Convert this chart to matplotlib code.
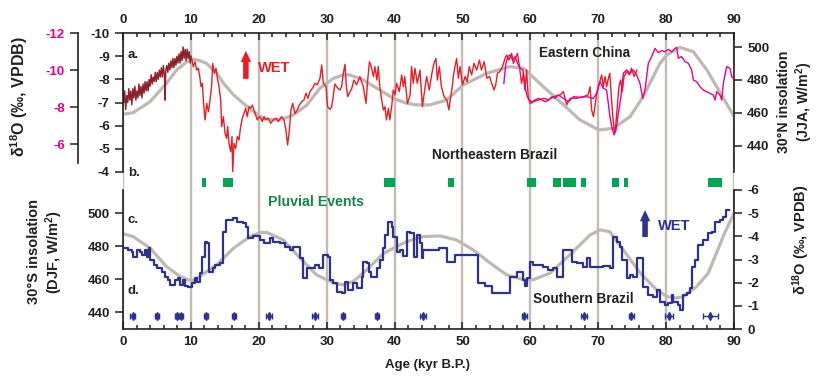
import matplotlib
matplotlib.use("Agg")
import matplotlib.pyplot as plt
from matplotlib.ticker import MultipleLocator

plt.rcParams['font.family'] = ['Liberation Sans', 'DejaVu Sans']
plt.rcParams['font.weight'] = 'bold'
plt.rcParams['axes.unicode_minus'] = False
plt.rcParams['mathtext.default'] = 'regular'

# ---------------- data ----------------
# a. Eastern China speleothem d18O (early part, dark red), permil VPDB
darkred_age = [0.0, 0.1, 0.25, 0.4, 0.55, 0.7, 0.85, 1.0, 1.15, 1.3, 1.45, 1.6, 1.75, 1.9, 2.05,
               2.2, 2.35, 2.5, 2.65, 2.8, 2.95, 3.1, 3.25, 3.4, 3.55, 3.7, 3.85, 4.0, 4.15, 4.3,
               4.45, 4.6, 4.75, 4.9, 5.05, 5.2, 5.35, 5.5, 5.65, 5.8, 5.95, 6.1, 6.2, 6.3, 6.45,
               6.6, 6.75, 6.9, 7.05, 7.2, 7.35, 7.5, 7.65, 7.8, 7.95, 8.1, 8.25, 8.4, 8.55, 8.7,
               8.85, 9.0, 9.15, 9.3, 9.45, 9.6, 9.75, 9.9, 10.05]
darkred_d18o = [-8.1, -7.0, -7.5, -6.7, -7.3, -7.0, -7.6, -7.1, -7.5, -6.9, -7.6, -7.2, -7.7, -7.1, -7.5,
                -7.2, -7.8, -7.3, -7.7, -7.2, -7.8, -7.4, -7.9, -7.5, -7.9, -7.5, -8.0, -7.7, -8.2, -7.8,
                -8.1, -7.9, -8.3, -7.9, -8.3, -8.0, -8.4, -8.1, -8.5, -8.1, -8.6, -8.2, -7.1, -8.4, -8.6,
                -8.3, -8.7, -8.4, -8.8, -8.5, -8.9, -8.5, -8.9, -8.6, -9.0, -8.7, -9.1, -8.7, -9.2, -8.8,
                -9.4, -8.9, -9.3, -8.8, -9.3, -8.9, -9.2, -8.7, -9.0]

# a. Eastern China speleothem d18O (red), permil VPDB
red_age = [10.11, 10.35, 10.61, 10.85, 11.10, 11.34, 11.49, 11.69, 11.83, 12.08, 12.33, 12.57, 12.82,
           13.06, 13.21, 13.45, 13.70, 13.90, 14.14, 14.39, 14.53, 14.78, 15.03, 15.27, 15.42, 15.61,
           15.86, 16.06, 16.16, 16.35, 16.59, 16.84, 17.08, 17.33, 17.57, 17.82, 18.07, 18.31, 18.56,
           18.80, 19.05, 19.29, 19.54, 19.78, 20.03, 20.28, 20.52, 20.77, 21.01, 21.40, 21.75, 22.14,
           22.53, 22.87, 23.37, 23.71, 24.00, 24.25, 24.50, 24.74, 24.99, 25.33, 25.68, 25.97, 26.32,
           26.66, 26.96, 27.25, 27.54, 27.90, 28.28, 28.63, 29.02, 29.27, 29.51, 29.90, 30.14, 30.49,
           30.73, 30.98, 31.20, 31.47, 31.70, 31.96, 32.20, 32.45, 32.70, 32.90, 33.10, 33.33, 33.70,
           34.00, 34.40, 34.90, 35.40, 35.80, 36.00, 36.30, 36.50, 36.90, 37.10, 37.40, 37.60, 37.80,
           38.10, 38.35, 38.60, 38.80, 39.10, 39.30, 39.60, 39.80, 40.07, 40.30, 40.70, 41.05, 41.30,
           41.50, 41.90, 42.30, 42.50, 42.76, 43.00, 43.35, 43.75, 44.10, 44.50, 44.73, 45.10, 45.50,
           45.80, 46.10, 46.30, 46.60, 46.90, 47.30, 47.70, 48.00, 48.27, 48.50, 48.65, 48.90, 49.15,
           49.40, 49.65, 50.00, 50.40, 50.70, 51.00, 51.35, 51.70, 52.10, 52.50, 52.80, 53.20, 53.60,
           54.00, 54.30, 54.65, 54.90, 55.15, 55.50, 55.90, 56.27, 56.50, 56.85, 57.25, 57.50, 57.80,
           58.10, 58.40, 58.70, 59.00, 59.20, 59.45, 59.70, 60.00, 60.50, 61.20, 62.00, 62.70, 63.40,
           64.40, 64.86, 65.35, 65.84, 66.80, 67.80, 68.50, 68.80, 69.03, 69.30, 69.50, 69.75, 70.00,
           70.30, 70.50, 70.75, 71.00, 71.24, 71.50, 71.70, 72.00, 72.20, 72.40, 72.56, 72.80, 73.05,
           73.30, 73.55, 73.80, 74.20, 74.60, 74.90, 75.30, 75.70]
red_d18o = [-8.90, -8.55, -8.76, -8.40, -8.48, -8.05, -7.68, -7.83, -7.11, -6.25, -6.96, -6.60, -7.11,
            -7.76, -8.69, -8.26, -8.48, -8.05, -7.68, -7.11, -5.96, -6.39, -5.67, -5.45, -5.96, -5.24,
            -4.88, -5.53, -4.02, -5.24, -5.02, -5.53, -5.38, -5.96, -6.32, -6.53, -6.75, -6.39, -6.82,
            -6.75, -6.89, -6.68, -6.46, -6.25, -6.39, -6.32, -6.18, -6.39, -6.25, -6.32, -6.10, -6.25,
            -6.32, -6.18, -6.39, -6.25, -5.81, -5.17, -5.81, -6.68, -6.96, -6.53, -6.68, -6.89, -7.04,
            -7.11, -7.40, -7.18, -7.47, -7.61, -7.83, -7.76, -8.05, -8.62, -7.83, -7.68, -6.82, -6.70,
            -6.82, -7.30, -7.80, -7.68, -7.60, -7.54, -7.68, -8.26, -8.65, -7.68, -7.25, -7.40, -7.61,
            -7.97, -7.76, -8.12, -7.68, -6.96, -7.83, -8.76, -8.62, -8.12, -8.55, -7.97, -8.55, -7.76,
            -7.11, -6.68, -6.82, -6.25, -6.75, -6.25, -6.89, -7.54, -7.33, -7.83, -7.47, -8.19, -7.68,
            -8.12, -6.96, -7.33, -8.55, -7.83, -8.48, -7.83, -8.40, -6.82, -7.68, -8.12, -7.54, -8.26,
            -8.69, -8.90, -7.97, -8.55, -7.68, -7.25, -7.11, -6.68, -7.25, -7.68, -8.12, -8.55, -8.90,
            -8.05, -8.55, -7.76, -8.12, -7.90, -8.55, -8.19, -8.69, -8.40, -8.83, -8.40, -8.76, -8.05,
            -8.12, -7.83, -7.54, -7.76, -8.26, -8.33, -8.55, -8.90, -9.05, -8.83, -9.12, -8.69, -8.90,
            -9.12, -8.55, -7.83, -8.26, -7.54, -8.40, -7.18, -6.96, -7.04, -7.11, -7.18, -7.11, -7.25,
            -7.33, -7.47, -6.90, -7.18, -7.18, -7.25, -7.33, -7.68, -6.68, -6.39, -6.82, -7.33, -7.68,
            -7.97, -8.19, -7.68, -8.12, -7.68, -8.05, -8.26, -6.96, -6.25, -5.67, -5.96, -6.82, -7.68,
            -7.97, -7.47, -8.12, -8.33, -8.19, -8.48, -8.12, -8.40]

# a. second record (pink), permil VPDB, on the pink axis
pink_age = [56.1, 56.4, 56.7, 57.0, 57.4, 57.75, 58.1, 58.5, 58.9, 59.2, 59.55, 59.85, 60.2, 60.7,
            61.2, 61.7, 62.2, 62.7, 63.2, 63.6, 64.1, 64.86, 65.6, 66.35, 67.31, 68.30, 69.28, 69.77,
            70.26, 70.75, 71.24, 71.73, 71.98, 72.33, 72.62, 72.96, 73.31, 73.70, 74.19, 74.68, 75.17,
            75.66, 76.15, 76.55, 76.89, 77.38, 77.87, 78.36, 78.86, 79.35, 79.84, 80.33, 80.82, 81.31,
            81.55, 81.80, 82.29, 82.78, 83.27, 83.76, 84.01, 84.50, 84.99, 85.48, 85.97, 86.46, 86.95,
            87.20, 87.45, 87.94, 88.19, 88.43, 88.92, 89.41, 89.66, 89.91]
pink_d18o = [-9.29, -10.37, -10.73, -10.82, -10.55, -10.73, -10.37, -10.10, -10.01, -9.11, -8.57, -8.39,
             -8.30, -8.39, -8.48, -8.39, -8.30, -8.39, -8.57, -8.48, -8.66, -8.48, -8.30, -8.57, -8.54,
             -8.57, -8.48, -8.75, -9.38, -9.02, -8.93, -7.49, -6.96, -6.51, -6.78, -7.67, -8.48, -9.83,
             -10.01, -9.83, -10.01, -9.74, -9.29, -8.48, -8.93, -10.37, -10.73, -11.17, -10.94, -11.05,
             -10.99, -11.12, -10.99, -11.17, -11.23, -10.64, -10.73, -10.46, -10.37, -10.01, -9.47, -9.38,
             -9.11, -8.93, -8.84, -8.75, -8.66, -8.39, -8.84, -8.66, -8.39, -9.29, -10.19, -10.10, -9.65,
             -9.56]

# 30N JJA insolation (W/m2)
ins30n_age = [0, 1.5, 4.0, 6.4, 7.9, 9.4, 10.4, 11.3, 12.3, 13.8, 14.8, 16.3, 17.7, 19.2, 20.7, 22.1,
              23.6, 25.1, 27.1, 29.0, 31.0, 32.5, 33.4, 35.4, 37.8, 39.8, 41.8, 43.3, 45.2, 47.7, 50.1,
              53.6, 57.0, 59.0, 61.9, 64.9, 67.3, 70.1, 72.2, 74.7, 76.6, 79.1, 80.1, 82.0, 84.0, 86.0,
              88.0, 90.0]
ins30n = [459.2, 460.2, 466.9, 478.0, 486.1, 491.1, 492.6, 491.7, 490.1, 484.1, 478.0, 470.9, 465.9,
          460.8, 456.8, 455.8, 456.4, 458.8, 464.9, 475.0, 481.0, 483.1, 483.1, 480.0, 474.0, 468.9,
          465.9, 464.9, 464.9, 467.9, 477.0, 484.1, 488.1, 487.1, 476.0, 464.9, 455.8, 449.7, 450.7,
          457.8, 469.9, 490.1, 495.2, 499.8, 497.2, 486.1, 472.0, 458.0]

# b. Northeastern Brazil pluvial events (kyr B.P.)
pluvial_start = [11.6, 14.7, 38.4, 47.9, 59.5, 63.3, 64.8, 67.5, 72.0, 73.8, 86.2]
pluvial_end = [12.2, 16.2, 40.1, 48.8, 60.8, 64.5, 66.7, 68.2, 73.1, 74.4, 88.2]

# c. 30S DJF insolation (W/m2)
ins30s_age = [0, 1.5, 4.0, 6.4, 8.4, 9.6, 10.4, 11.3, 13.8, 16.3, 18.7, 20.2, 21.2, 23.6, 26.1, 28.5,
              31.0, 32.4, 33.9, 35.9, 38.4, 40.8, 41.8, 44.2, 46.7, 49.1, 51.6, 54.1, 56.5, 59.0, 60.4,
              62.9, 65.8, 68.8, 70.3, 71.7, 73.7, 76.2, 78.6, 80.1, 81.5, 82.5, 84.5, 86.2, 87.4, 88.6,
              90.0]
ins30s = [487.6, 485.8, 478.8, 467.6, 461.6, 459.6, 459.2, 461.6, 468.7, 478.8, 485.8, 488.3, 488.3,
          483.8, 472.7, 462.6, 457.6, 456.5, 458.5, 465.6, 475.7, 480.8, 482.8, 485.8, 486.2, 483.8,
          477.7, 469.7, 462.6, 459.6, 459.6, 463.6, 474.7, 486.8, 489.9, 488.8, 477.7, 463.6, 453.5,
          449.4, 448.5, 449.4, 455.5, 463.6, 475.7, 487.8, 500.0]

# c. Southern Brazil speleothem d18O (blue), permil VPDB
blue_age = [0.3, 0.8, 1.3, 1.5, 2.0, 2.5, 2.75, 3.25, 3.5, 3.9, 4.0, 4.5, 5.0, 5.7, 6.2, 6.7, 6.9, 7.7,
            8.15, 8.4, 8.8, 9.1, 9.6, 10.1, 10.6, 10.95, 11.35, 11.6, 12.1, 12.4, 12.7, 13.3, 13.55,
            14.3, 14.7, 14.8, 15.2, 15.8, 16.25, 16.75, 17.7, 18.05, 18.45, 19.2, 20.2, 20.7, 21.65,
            22.15, 23.1, 23.85, 24.6, 25.1, 26.05, 26.45, 27.05, 28.3, 28.8, 29.5, 30.25, 30.5, 31.0,
            31.45, 32.2, 32.7, 33.2, 33.9, 34.4, 35.15, 35.4, 35.9, 36.3, 36.6, 37.35, 37.85, 38.25,
            38.6, 39.1, 39.55, 39.8, 40.3, 40.8, 41.3, 41.8, 42.3, 42.8, 43.25, 43.75, 44.0, 44.25,
            45.5, 46.5, 47.7, 48.9, 52.35, 53.3, 54.3, 57.0, 58.0, 58.95, 59.2, 59.45, 59.95, 60.45,
            61.9, 62.65, 63.4, 63.9, 64.85, 66.1, 66.85, 67.8, 68.3, 68.8, 70.0, 70.75, 71.75, 72.15,
            72.7, 73.2, 73.45, 74.2, 74.7, 75.15, 75.65, 76.65, 77.4, 78.1, 78.6, 79.1, 79.85, 80.35,
            80.8, 81.05, 81.8, 82.05, 82.55, 83.05, 83.5, 83.75, 84.25, 84.75, 85.5, 86.2, 86.7, 87.2,
            87.95, 88.45, 88.8, 89.3]
blue_d18o = [-3.48, -3.40, -3.34, -3.12, -3.41, -3.34, -3.19, -3.41, -3.12, -3.48, -2.98, -2.76, -2.62,
             -2.48, -2.26, -2.12, -1.90, -2.12, -2.19, -1.90, -2.12, -1.86, -1.83, -1.97, -2.19, -2.04,
             -2.40, -3.12, -3.77, -3.70, -2.48, -2.62, -2.76, -2.84, -2.91, -4.20, -4.71, -4.72, -4.78,
             -4.63, -4.56, -4.42, -3.91, -4.00, -3.84, -3.70, -3.91, -3.77, -3.70, -3.55, -3.41, -3.55,
             -3.05, -2.19, -2.62, -2.76, -2.62, -3.19, -3.12, -2.12, -1.97, -1.61, -1.54, -2.04, -1.68,
             -1.97, -1.76, -2.26, -2.91, -2.84, -2.48, -2.26, -2.62, -2.98, -3.48, -4.06, -4.63, -4.42,
             -3.99, -3.34, -3.41, -3.16, -4.20, -4.13, -3.12, -4.06, -3.70, -3.05, -3.41, -3.41, -3.48,
             -2.91, -3.19, -1.97, -1.86, -1.54, -2.26, -2.48, -2.12, -1.86, -2.20, -2.91, -2.76, -2.69,
             -2.55, -2.62, -2.26, -3.41, -2.91, -2.84, -2.69, -3.05, -2.69, -2.69, -2.72, -2.62, -3.99,
             -3.77, -3.55, -2.98, -2.19, -2.33, -2.26, -3.05, -1.83, -1.47, -1.40, -1.68, -1.18, -1.04,
             -1.11, -1.47, -1.18, -1.04, -0.82, -1.47, -1.54, -1.76, -2.69, -2.98, -3.62, -3.84, -4.13,
             -4.20, -4.63, -4.71, -4.85, -5.13, -5.13]

# d. U/Th dates with 2-sigma errors (kyr B.P.)
date_age = [1.4, 5.0, 8.0, 8.6, 12.2, 16.3, 21.5, 28.3, 32.4, 37.4, 44.2, 59.1, 67.9, 74.9, 80.4, 86.5]
date_err = [0.3, 0.3, 0.3, 0.3, 0.3, 0.3, 0.4, 0.4, 0.3, 0.3, 0.4, 0.4, 0.4, 0.4, 0.6, 1.1]
date_level = -0.55

grid_ages = [0, 10, 20, 30, 40, 50, 60, 70, 80, 90]

# ---------------- style ----------------
GRAY = '#BFB8B3'
GRID = '#C2BBB6'
DARKRED = '#8E1F2C'
RED = '#ED1C24'
PINK = '#EC008C'
BLUE = '#2E3192'
GREEN = '#00A651'
DGREEN = '#13854A'
INK = '#231F20'

W, H = 817, 379
fig = plt.figure(figsize=(W / 100, H / 100), dpi=100)


def box(x0, y0, x1, y1):
    return [x0 / W, 1 - y1 / H, (x1 - x0) / W, (y1 - y0) / H]


XL, XR = 123, 734
YT, YB = 33, 329
TOP_B = 172
PINK_B = 163
BOT_T = 190
TICK = dict(direction='out', length=5.5, width=1.1, labelsize=9.5, pad=4, colors=INK)


def clean(ax):
    ax.patch.set_visible(False)
    ax.set_xlim(0, 90)
    ax.xaxis.set_visible(False)
    for s in ax.spines.values():
        s.set_visible(False)
        s.set_linewidth(1.2)
        s.set_color(INK)


# background frame: age axes, gridlines, pluvial bars
ax_bg = fig.add_axes(box(XL, YT, XR, YB))
ax_bg.patch.set_visible(False)
ax_bg.set_xlim(0, 90)
ax_bg.set_ylim(0, 1)
ax_bg.spines['left'].set_visible(False)
ax_bg.spines['right'].set_visible(False)
for s in ('top', 'bottom'):
    ax_bg.spines[s].set_linewidth(1.2)
    ax_bg.spines[s].set_color(INK)
ax_bg.set_yticks([])
ax_bg.xaxis.set_major_locator(MultipleLocator(10))
ax_bg.xaxis.set_minor_locator(MultipleLocator(2))
ax_bg.tick_params(axis='x', which='both', direction='in', top=True, bottom=True,
                  labeltop=True, labelbottom=True, width=1.1, labelsize=9.5, pad=5, colors=INK)
ax_bg.tick_params(axis='x', which='major', length=5)
ax_bg.tick_params(axis='x', which='minor', length=3)
for g in grid_ages:
    ax_bg.axvline(g, color=GRID, lw=1.7, zorder=0)
ax_bg.broken_barh([(s, e - s) for s, e in zip(pluvial_start, pluvial_end)], (0.48, 0.031),
                  facecolors=GREEN, zorder=2)

# top panel: insolation (right axis)
ax_it = fig.add_axes(box(XL, YT, XR, TOP_B))
clean(ax_it)
ax_it.spines['right'].set_visible(True)
ax_it.yaxis.tick_right()
ax_it.set_ylim(424.2, 508.5)
ax_it.set_yticks([440, 460, 480, 500])
ax_it.tick_params(axis='y', **TICK)
ax_it.plot(ins30n_age, ins30n, color=GRAY, lw=2.3, solid_capstyle='butt')

# top panel: Eastern China d18O (left axis)
ax_t = fig.add_axes(box(XL, YT, XR, TOP_B))
clean(ax_t)
ax_t.spines['left'].set_visible(True)
ax_t.set_ylim(-4, -10)
ax_t.set_yticks(list(range(-10, -3)))
ax_t.tick_params(axis='y', **TICK)
ax_t.plot(red_age, red_d18o, color=RED, lw=1.0)
ax_t.plot(darkred_age, darkred_d18o, color=DARKRED, lw=1.0)
ax_t.annotate('', xy=(18.1, -9.35), xytext=(18.1, -7.9),
              arrowprops=dict(arrowstyle='simple,head_width=0.75,head_length=0.8,tail_width=0.4',
                              color=RED, lw=0, mutation_scale=10))

# pink axis (outer left)
ax_p = fig.add_axes(box(XL, YT, XR, PINK_B))
clean(ax_p)
ax_p.spines['left'].set_visible(True)
ax_p.spines['left'].set_position(('outward', 45 * 0.72))
ax_p.set_ylim(-5, -12)
ax_p.set_yticks([-12, -10, -8, -6])
ax_p.tick_params(axis='y', **TICK)
ax_p.tick_params(axis='y', labelcolor=PINK)
ax_p.plot(pink_age, pink_d18o, color=PINK, lw=1.0)

# bottom panel: insolation (left axis)
ax_ib = fig.add_axes(box(XL, BOT_T, XR, YB))
clean(ax_ib)
ax_ib.spines['left'].set_visible(True)
ax_ib.set_ylim(429.7, 514.1)
ax_ib.set_yticks([440, 460, 480, 500])
ax_ib.tick_params(axis='y', **TICK)
ax_ib.plot(ins30s_age, ins30s, color=GRAY, lw=2.3, solid_capstyle='butt')

# bottom panel: Southern Brazil d18O (right axis)
ax_b = fig.add_axes(box(XL, BOT_T, XR, YB))
clean(ax_b)
ax_b.spines['right'].set_visible(True)
ax_b.yaxis.tick_right()
ax_b.set_ylim(0, -6)
ax_b.set_yticks([0, -1, -2, -3, -4, -5, -6])
ax_b.tick_params(axis='y', **TICK)
ax_b.plot(blue_age, blue_d18o, color=BLUE, lw=1.6, drawstyle='steps-post')
ax_b.errorbar(date_age, [date_level] * len(date_age), xerr=date_err, fmt='d', color=BLUE,
              ms=4, elinewidth=1.0, capsize=2.5, capthick=1.0)
ax_b.annotate('', xy=(76.9, -5.25), xytext=(76.9, -3.85),
              arrowprops=dict(arrowstyle='simple,head_width=0.75,head_length=0.8,tail_width=0.4',
                              color=BLUE, lw=0, mutation_scale=10))


def ftext(x, y, s, **kw):
    kw.setdefault('color', INK)
    kw.setdefault('fontsize', 9.5)
    kw.setdefault('fontweight', 'bold')
    kw.setdefault('va', 'center')
    return fig.text(x / W, 1 - y / H, s, **kw)


ftext(128, 55, 'a.')
ftext(128, 173, 'b.')
ftext(127, 220, 'c.')
ftext(127, 291, 'd.')
ftext(258, 68, 'WET', color=RED, fontsize=10.5)
ftext(658, 226, 'WET', color=BLUE, fontsize=10.5)
ftext(539, 53, 'Eastern China', fontsize=9.8)
ftext(432, 155, 'Northeastern Brazil', fontsize=9.8)
ftext(268, 202, 'Pluvial Events', color=DGREEN, fontsize=10.2)
ftext(533, 299, 'Southern Brazil', fontsize=9.8)
ftext(428, 365, 'Age (kyr B.P.)', ha='center', fontsize=9.5)

ftext(19, 97, '\u03b4$^{18}$O (\u2030, VPDB)', ha='center', rotation=90, fontsize=11.5)
ftext(46, 252, '30\u00b0S insolation\n(DJF, W/m$^2$)', ha='center', rotation=90,
      fontsize=10.5, multialignment='center')
ftext(796, 102, '30\u00b0N insolation\n(JJA, W/m$^2$)', ha='center', rotation=90,
      fontsize=10.2, multialignment='center')
ftext(801, 240, '\u03b4$^{18}$O (\u2030, VPDB)', ha='center', rotation=90, fontsize=10.5)

fig.savefig('out.png', dpi=100)
